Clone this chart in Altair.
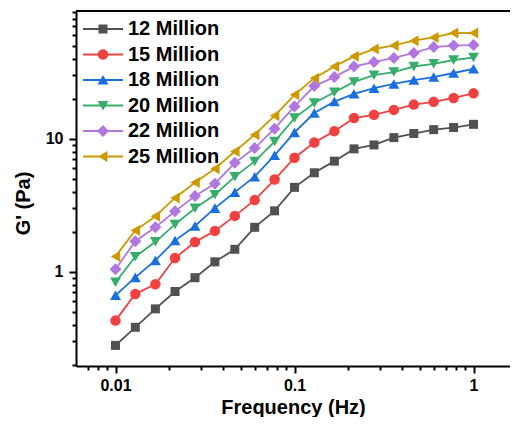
import math
import altair as alt
import pandas as pd

# ---- data ----
freq = [0.01, 0.0129, 0.0167, 0.0215, 0.0278, 0.0359, 0.0464, 0.0599, 0.0774, 0.1,
        0.129, 0.167, 0.215, 0.278, 0.359, 0.464, 0.599, 0.774, 1.0]
names = ["12 Million", "15 Million", "18 Million", "20 Million", "22 Million", "25 Million"]
g12 = [0.28, 0.383, 0.527, 0.712, 0.904, 1.19, 1.478, 2.163, 2.876, 4.32, 5.56, 6.80,
       8.41, 9.00, 10.22, 10.97, 11.73, 12.17, 12.86]
g15 = [0.430, 0.681, 0.808, 1.271, 1.676, 2.033, 2.636, 3.465, 4.944, 7.21, 9.40, 11.43,
       14.34, 15.16, 16.51, 18.10, 18.98, 20.30, 21.99]
g18 = [0.666, 0.909, 1.219, 1.719, 2.211, 3.015, 3.975, 5.20, 7.52, 11.19, 15.65, 19.08,
       21.81, 24.04, 25.88, 27.68, 29.15, 31.28, 33.62]
g20 = [0.836, 1.299, 1.682, 2.275, 3.005, 3.80, 5.20, 6.77, 9.54, 14.34, 18.60, 22.44,
       26.81, 30.10, 31.80, 35.00, 36.68, 39.17, 40.84]
g22 = [1.045, 1.699, 2.163, 2.852, 3.718, 4.60, 6.60, 8.53, 11.93, 17.54, 24.94, 29.15,
       35.06, 37.81, 40.56, 44.26, 49.03, 50.29, 50.70]
g25 = [1.307, 2.050, 2.614, 3.595, 4.70, 5.97, 8.04, 10.75, 14.91, 21.45, 28.62, 35.06,
       41.74, 47.34, 50.36, 54.76, 57.88, 62.52, 62.52]
series_values = [g12, g15, g18, g20, g22, g25]

x_ticks = [0.007, 0.008, 0.009, 0.01, 0.02, 0.03, 0.04, 0.05, 0.06, 0.07, 0.08, 0.09,
           0.1, 0.2, 0.3, 0.4, 0.5, 0.6, 0.7, 0.8, 0.9, 1]
y_ticks = [0.2, 0.3, 0.4, 0.5, 0.6, 0.7, 0.8, 0.9, 1, 2, 3, 4, 5, 6, 7, 8, 9, 10,
           20, 30, 40, 50, 60, 70, 80, 90]

# ---- styling ----
colors = ["#515151", "#F14040", "#1A6FDF", "#37AD6B", "#B177DE", "#CC9900"]
shapes = ["square", "circle", "triangle-up", "triangle-down", "diamond", "triangle-left"]
sizes = [81, 110, 121, 121, 144, 121]
FONT = "Liberation Sans"

rows = []
for name, vals in zip(names, series_values):
    for f, v in zip(freq, vals):
        rows.append({"series": name, "freq": f, "g": v})
df = pd.DataFrame(rows)

# legend symbols: line segment + marker (units: 1 = 5 px at symbolSize 100)
line_part = "M-4,-0.2L4,-0.2L4,0.2L-4,0.2Z"
circ = "M" + "L".join(
    f"{1.05*math.cos(2*math.pi*k/24):.3f},{1.05*math.sin(2*math.pi*k/24):.3f}" for k in range(24)) + "Z"
marker_parts = [
    "M-0.9,-0.9L0.9,-0.9L0.9,0.9L-0.9,0.9Z",
    circ,
    "M0,-1L1.1,0.9L-1.1,0.9Z",
    "M-1.1,-0.9L1.1,-0.9L0,1Z",
    "M0,-1.2L1.2,0L0,1.2L-1.2,0Z",
    "M-1,0L0.9,-1.1L0.9,1.1Z",
]
legend_paths = [line_part + " " + m for m in marker_parts]

W, H = 434, 355
xscale = alt.Scale(type="log", domain=[0.006016, 1.599], nice=False)
yscale = alt.Scale(type="log", domain=[0.196, 91.5], nice=False)

xaxis = alt.Axis(
    values=x_ticks, title="Frequency (Hz)", grid=False, labelOverlap=False,
    labelExpr="datum.value == 0.01 ? '0.01' : datum.value == 0.1 ? '0.1' : datum.value == 1 ? '1' : ''",
    tickSize={"condition": {"test": "datum.value == 0.01 || datum.value == 0.1 || datum.value == 1",
                            "value": 7}, "value": 4},
    labelPadding=4, labelFlush=False,
    titleX=217, titleY=47, titleBaseline="alphabetic", titleAnchor="middle", titleAlign="center",
)
yaxis = alt.Axis(
    values=y_ticks, title="G' (Pa)", grid=False, labelOverlap=False,
    labelExpr="datum.value == 1 ? '1' : datum.value == 10 ? '10' : ''",
    tickSize={"condition": {"test": "datum.value == 1 || datum.value == 10", "value": 7}, "value": 4},
    labelPadding=6,
    titleX=-43, titleY=192, titleAngle=270, titleBaseline="bottom", titleAlign="center",
)

base = alt.Chart(df)
X = alt.X("freq:Q", scale=xscale, axis=xaxis)
Y = alt.Y("g:Q", scale=yscale, axis=yaxis)

layers = []
for name, col in zip(names, colors):
    layers.append(
        base.transform_filter(alt.datum.series == name)
        .mark_line(strokeWidth=1.8, color=col)
        .encode(x=X, y=Y)
    )
for name, col, shp, sz in zip(names, colors, shapes, sizes):
    layers.append(
        base.transform_filter(alt.datum.series == name)
        .mark_point(shape=shp, size=sz, filled=True, opacity=1, strokeWidth=0, color=col)
        .encode(x=X, y=Y)
    )

leg = alt.Legend(
    title=None, orient="none", legendX=17, legendY=8, padding=0, rowPadding=5.5,
    labelFont=FONT, labelFontSize=20, labelFontWeight="bold", labelColor="black",
    labelOffset=15, labelLimit=400, symbolSize=100, symbolStrokeWidth=0, symbolOpacity=1,
)
legend_df = pd.DataFrame({"series": pd.Series([], dtype="object")})
legend_layer = alt.Chart(legend_df).mark_point(filled=True, strokeWidth=0).encode(
    color=alt.Color("series:N", scale=alt.Scale(domain=names, range=colors), legend=leg),
    shape=alt.Shape("series:N", scale=alt.Scale(domain=names, range=legend_paths), legend=leg),
)
layers.append(legend_layer)

top_rule = alt.Chart(pd.DataFrame({"a": [0]})).mark_rule(color="black", strokeWidth=2).encode(
    x=alt.value(0), x2=alt.value(W), y=alt.value(0)
)
layers.append(top_rule)

chart = (
    alt.layer(*layers)
    .properties(
        width=W, height=H,
        autosize=alt.AutoSizeParams(type="none"),
        padding={"left": 68, "top": 3, "right": 0, "bottom": 51},
        background="white",
    )
    .configure_view(strokeWidth=0)
    .configure_axis(
        domainColor="black", domainWidth=2, tickColor="black", tickWidth=2,
        labelFont=FONT, labelFontSize=16, labelFontWeight="bold", labelColor="black",
        titleFont=FONT, titleFontSize=20, titleFontWeight="bold", titleColor="black",
    )
)

chart.save("out.html", embed_options={"renderer": "svg", "actions": False})
